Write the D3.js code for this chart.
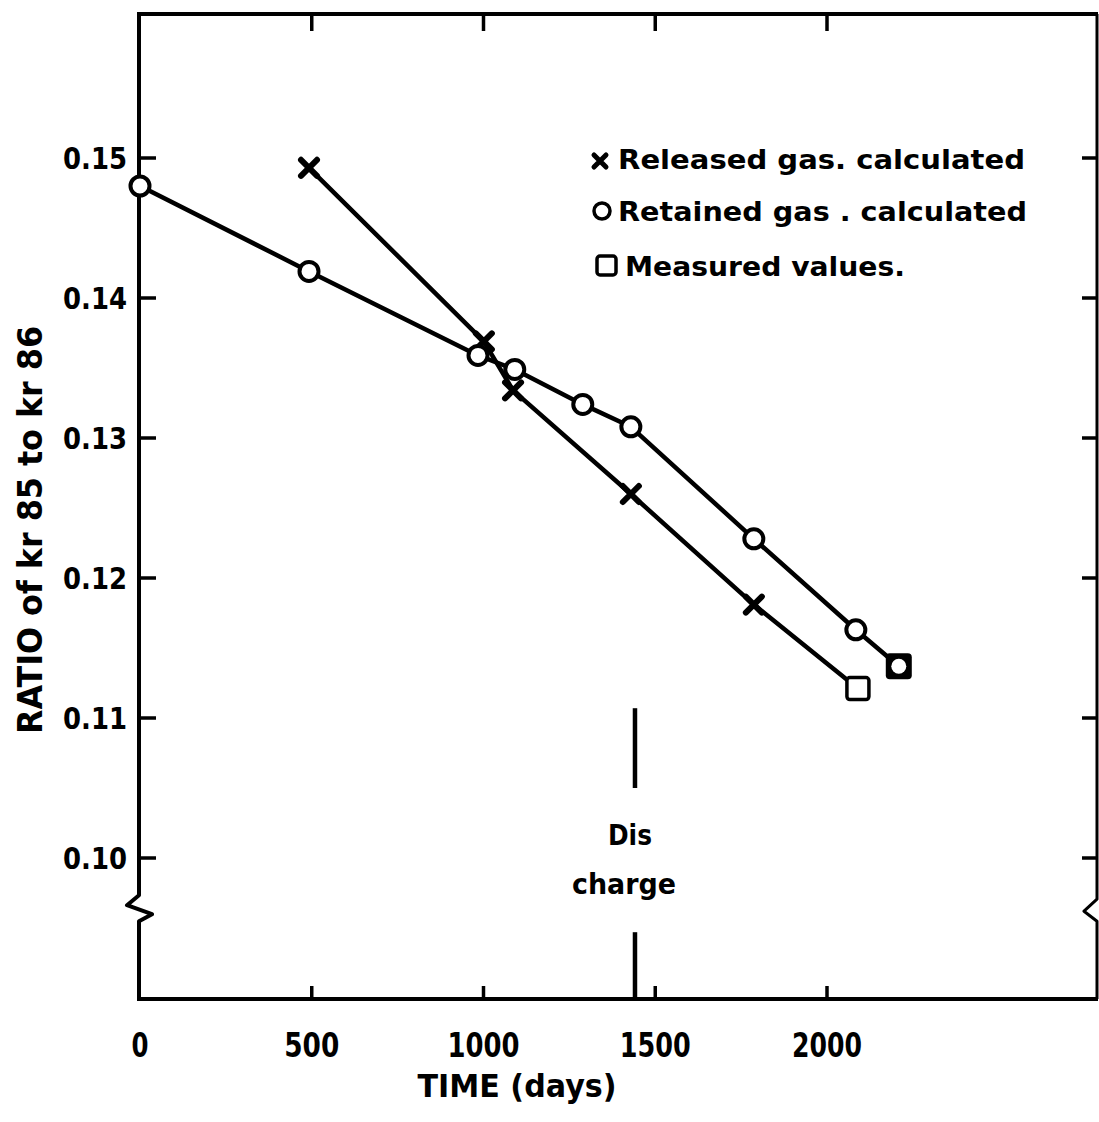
<!DOCTYPE html>
<html>
<head>
<meta charset="utf-8">
<script src="https://cdn.jsdelivr.net/npm/d3@7/dist/d3.min.js"></script>
<style>
  html, body { margin: 0; padding: 0; background: #fff; }
  text { font-family: "DejaVu Sans", sans-serif; font-weight: bold; fill: #000; }
</style>
</head>
<body>
<svg id="chart" width="1099" height="1122"></svg>
<script>
// ---- data ----
const releasedDays  = [492, 1001, 1086, 1429, 1787, 2090];
const releasedRatio = [0.1493, 0.1369, 0.1334, 0.1260, 0.1181, 0.1121];
const releasedMarked = [true, true, true, true, true, false];

const retainedDays  = [0, 492, 984, 1091, 1289, 1429, 1787, 2084, 2209];
const retainedRatio = [0.1480, 0.1419, 0.1359, 0.1349, 0.1324, 0.1308, 0.1228, 0.1163, 0.1137];
const retainedMarked = [true, true, true, true, true, true, true, true, false];

const measuredDays  = [2090, 2209];
const measuredRatio = [0.1121, 0.1137];

const xTickValues = [0, 500, 1000, 1500, 2000];
const xTickLabels = ["0", "500", "1000", "1500", "2000"];
const yTickValues = [0.10, 0.11, 0.12, 0.13, 0.14, 0.15];
const yTickLabels = ["0.10", "0.11", "0.12", "0.13", "0.14", "0.15"];
const dischargeDay = 1441;
const breakRatio = 0.0962;

const legendLabels = ["Released gas. calculated", "Retained gas . calculated", "Measured values."];

// ---- layout ----
const svg = d3.select("#chart");
const fLeft = 139, fRight = 1097, fTop = 14, fBottom = 999;
const x = d3.scaleLinear().domain([0, 2000]).range([140, 827]);
const y = d3.scaleLinear().domain([0.09, 0.16]).range([998, 18]);
const LW = 4.5;

// frame with breaks
const by = y(breakRatio);
const leftPath = d3.path();
leftPath.moveTo(fLeft, fTop); leftPath.lineTo(fLeft, by - 16);
leftPath.lineTo(fLeft - 12, by - 6); leftPath.lineTo(fLeft + 13, by + 3);
leftPath.lineTo(fLeft, by + 10); leftPath.lineTo(fLeft, fBottom);
svg.append("path").attr("d", leftPath.toString()).attr("fill", "none")
  .attr("stroke", "#000").attr("stroke-width", 4).attr("stroke-linejoin", "round");
const rightPath = d3.path();
rightPath.moveTo(fRight, fTop); rightPath.lineTo(fRight, by - 12);
rightPath.lineTo(fRight - 13, by); rightPath.lineTo(fRight, by + 10);
rightPath.lineTo(fRight, fBottom);
svg.append("path").attr("d", rightPath.toString()).attr("fill", "none")
  .attr("stroke", "#000").attr("stroke-width", 3).attr("stroke-linejoin", "round");
svg.append("line").attr("x1", fLeft - 2).attr("x2", fRight + 1).attr("y1", fTop).attr("y2", fTop)
  .attr("stroke", "#000").attr("stroke-width", 4);
svg.append("line").attr("x1", fLeft - 2).attr("x2", fRight + 1).attr("y1", fBottom).attr("y2", fBottom)
  .attr("stroke", "#000").attr("stroke-width", 4);

// ticks (inward)
const xt = xTickValues.filter(d => d > 0);
svg.selectAll(".xtb").data(xt).enter().append("line")
  .attr("x1", d => x(d)).attr("x2", d => x(d)).attr("y1", fBottom).attr("y2", fBottom - 13)
  .attr("stroke", "#000").attr("stroke-width", 3.5);
svg.selectAll(".xtt").data(xt).enter().append("line")
  .attr("x1", d => x(d)).attr("x2", d => x(d)).attr("y1", fTop).attr("y2", fTop + 17)
  .attr("stroke", "#000").attr("stroke-width", 3.5);
svg.selectAll(".ytl").data(yTickValues).enter().append("line")
  .attr("x1", fLeft).attr("x2", fLeft + 17).attr("y1", d => y(d)).attr("y2", d => y(d))
  .attr("stroke", "#000").attr("stroke-width", 3.5);
svg.selectAll(".ytr").data(yTickValues).enter().append("line")
  .attr("x1", fRight).attr("x2", fRight - 15).attr("y1", d => y(d)).attr("y2", d => y(d))
  .attr("stroke", "#000").attr("stroke-width", 3.5);

// tick labels
const xLabW = [17, 55, 72, 71, 70];
svg.selectAll(".xl").data(xTickValues).enter().append("text")
  .attr("x", d => x(d)).attr("y", 1057).attr("text-anchor", "middle")
  .attr("font-size", 33)
  .attr("textLength", (d, i) => xLabW[i]).attr("lengthAdjust", "spacingAndGlyphs")
  .text((d, i) => xTickLabels[i]);
svg.selectAll(".yl").data(yTickValues).enter().append("text")
  .attr("x", 127).attr("y", d => y(d) + 11).attr("text-anchor", "end")
  .attr("font-size", 30)
  .attr("textLength", 64).attr("lengthAdjust", "spacingAndGlyphs")
  .text((d, i) => yTickLabels[i]);

// axis titles
svg.append("text").attr("x", 517).attr("y", 1097).attr("text-anchor", "middle")
  .attr("font-size", 32).attr("textLength", 199).attr("lengthAdjust", "spacingAndGlyphs")
  .text("TIME (days)");
svg.append("text").attr("transform", "translate(42,530) rotate(-90)").attr("text-anchor", "middle")
  .attr("font-size", 34).attr("textLength", 408).attr("lengthAdjust", "spacingAndGlyphs")
  .text("RATIO of kr 85 to kr 86");

// discharge marker
const dx = x(dischargeDay);
svg.append("line").attr("x1", dx).attr("x2", dx).attr("y1", y(0.1107)).attr("y2", y(0.1050))
  .attr("stroke", "#000").attr("stroke-width", LW);
svg.append("line").attr("x1", dx).attr("x2", dx).attr("y1", y(0.0947)).attr("y2", fBottom)
  .attr("stroke", "#000").attr("stroke-width", LW);
svg.append("text").attr("x", dx - 5).attr("y", 845).attr("text-anchor", "middle")
  .attr("font-size", 28).attr("textLength", 44).attr("lengthAdjust", "spacingAndGlyphs").text("Dis");
svg.append("text").attr("x", dx - 11).attr("y", 894).attr("text-anchor", "middle")
  .attr("font-size", 28).attr("textLength", 104).attr("lengthAdjust", "spacingAndGlyphs").text("charge");

// series lines
const line = d3.line().x(d => x(d[0])).y(d => y(d[1]));
const relData = releasedDays.map((d, i) => [d, releasedRatio[i], releasedMarked[i]]);
const retData = retainedDays.map((d, i) => [d, retainedRatio[i], retainedMarked[i]]);
svg.append("path").attr("d", line(relData)).attr("fill", "none").attr("stroke", "#000")
  .attr("stroke-width", LW).attr("stroke-linejoin", "round");
svg.append("path").attr("d", line(retData)).attr("fill", "none").attr("stroke", "#000")
  .attr("stroke-width", LW).attr("stroke-linejoin", "round");

// markers
function crossPath(cx, cy, s) {
  return `M${cx - s},${cy - s}L${cx + s},${cy + s}M${cx - s},${cy + s}L${cx + s},${cy - s}`;
}
svg.selectAll(".xm").data(relData.filter(d => d[2])).enter().append("path")
  .attr("d", d => crossPath(x(d[0]), y(d[1]), 8))
  .attr("stroke", "#000").attr("stroke-width", 6).attr("stroke-linecap", "round");
svg.selectAll(".om").data(retData.filter(d => d[2])).enter().append("circle")
  .attr("cx", d => x(d[0])).attr("cy", d => y(d[1])).attr("r", 9.5)
  .attr("fill", "#fff").attr("stroke", "#000").attr("stroke-width", 4);

// measured values
const measData = measuredDays.map((d, i) => [d, measuredRatio[i]]);
svg.append("rect").attr("x", x(measData[0][0]) - 11).attr("y", y(measData[0][1]) - 11)
  .attr("width", 22).attr("height", 22).attr("rx", 3)
  .attr("fill", "#fff").attr("stroke", "#000").attr("stroke-width", 3.5);
svg.append("rect").attr("x", x(measData[1][0]) - 13).attr("y", y(measData[1][1]) - 13)
  .attr("width", 26).attr("height", 26).attr("rx", 4).attr("fill", "#000");
svg.append("circle").attr("cx", x(measData[1][0])).attr("cy", y(measData[1][1]))
  .attr("r", 7.5).attr("fill", "#fff");

// legend
const legY = [159, 211, 266];
const legX = [618, 618, 625];
const legW = [407, 409, 280];
svg.selectAll(".lt").data(legendLabels).enter().append("text")
  .attr("x", (d, i) => legX[i]).attr("y", (d, i) => legY[i] + 10)
  .attr("font-size", 27).attr("textLength", (d, i) => legW[i]).attr("lengthAdjust", "spacingAndGlyphs")
  .text(d => d);
svg.append("path").attr("d", crossPath(600, legY[0] + 2, 6))
  .attr("stroke", "#000").attr("stroke-width", 5).attr("stroke-linecap", "round");
svg.append("circle").attr("cx", 602).attr("cy", legY[1]).attr("r", 8)
  .attr("fill", "#fff").attr("stroke", "#000").attr("stroke-width", 3.5);
svg.append("rect").attr("x", 597).attr("y", legY[2] - 10).attr("width", 19).attr("height", 19)
  .attr("rx", 3).attr("fill", "#fff").attr("stroke", "#000").attr("stroke-width", 3.5);
</script>
</body>
</html>
